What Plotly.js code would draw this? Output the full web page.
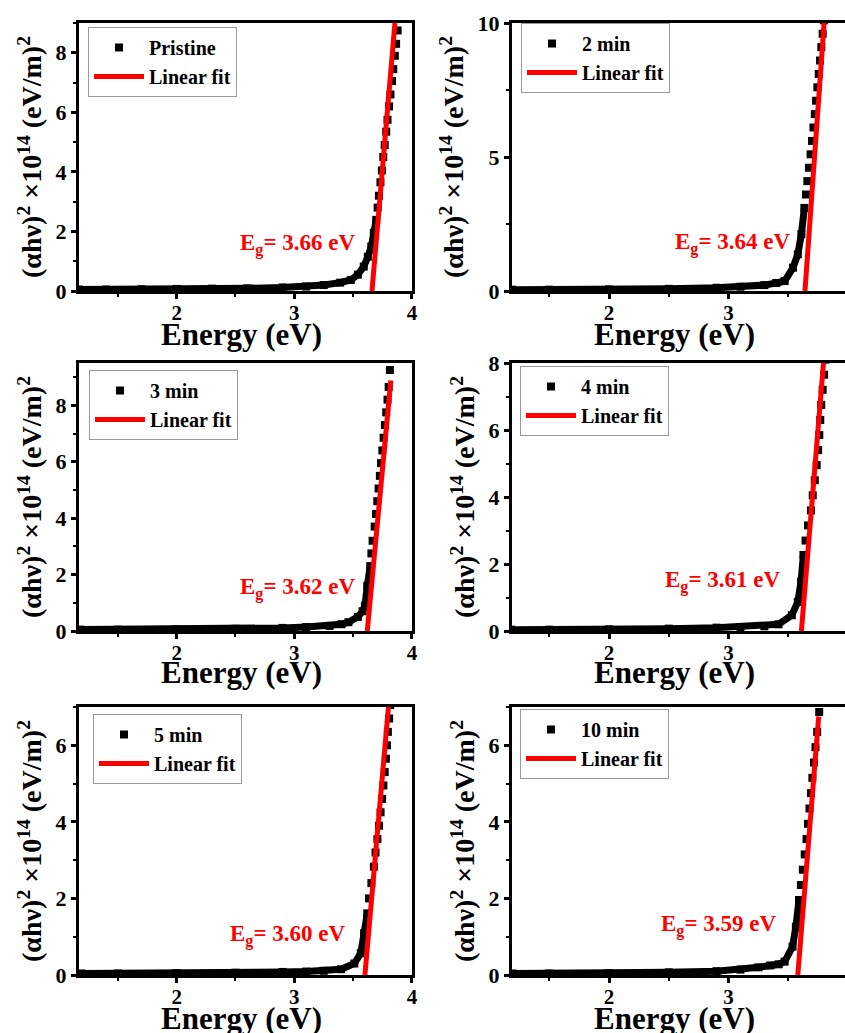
<!DOCTYPE html>
<html>
<head>
<meta charset="utf-8">
<script src="https://cdn.plot.ly/plotly-3.0.1.min.js"></script>
<style>
html,body{margin:0;padding:0;background:#fff;}
#chart{width:845px;height:1033px;}
</style>
</head>
<body>
<div id="chart"></div>
<script>
// ---------------- DATA ----------------
const sampleNames = ["Pristine", "2 min", "3 min", "4 min", "5 min", "10 min"];
const bandGaps = ["3.66", "3.64", "3.62", "3.61", "3.60", "3.59"];
const xTitle = "Energy (eV)";
const yTitle = "(αhν)<sup>2</sup> ×10<sup>14</sup> (eV/m)<sup>2</sup>";

const energy_pristine = [1.17,1.4,1.7,2.0,2.3,2.6,2.9,3.1,3.25,3.39,3.48,3.54,3.59,3.625,3.654,3.676,3.696,3.708,3.719,3.732,3.744,3.756,3.768,3.781,3.792,3.805,3.817,3.830,3.841,3.854,3.865,3.878,3.892];
const tauc_pristine   = [0.05,0.05,0.06,0.07,0.08,0.09,0.12,0.15,0.20,0.28,0.37,0.55,0.82,1.15,1.49,1.95,2.39,2.8,3.2,3.65,4.05,4.5,4.9,5.35,5.75,6.2,6.6,7.05,7.45,7.9,8.3,8.75,9.2];

const energy_2min = [1.19,1.5,2.0,2.5,2.9,3.1,3.3,3.4,3.47,3.54,3.58,3.61,3.635,3.648,3.660,3.673,3.687,3.699,3.711,3.722,3.733,3.744,3.755,3.766,3.777,3.788,3.798];
const tauc_2min   = [0.05,0.05,0.06,0.08,0.12,0.16,0.22,0.30,0.37,0.87,1.37,2.12,3.1,3.6,4.1,4.6,5.1,5.6,6.1,6.6,7.1,7.6,8.1,8.6,9.1,9.6,10.1];

const energy_3min = [1.18,1.5,2.0,2.5,2.9,3.1,3.3,3.4,3.46,3.54,3.58,3.60,3.62,3.645,3.655,3.665,3.683,3.694,3.705,3.716,3.727,3.737,3.748,3.759,3.770,3.781,3.792,3.802,3.812];
const tauc_3min   = [0.05,0.05,0.06,0.08,0.11,0.14,0.18,0.24,0.31,0.50,0.70,0.90,1.6,2.3,2.75,3.2,3.7,4.15,4.6,5.05,5.5,5.95,6.4,6.85,7.3,7.75,8.2,8.65,9.25];

const energy_4min = [1.18,1.5,2.0,2.5,2.9,3.1,3.3,3.418,3.53,3.58,3.607,3.627,3.645,3.665,3.69,3.705,3.722,3.738,3.75,3.76,3.768,3.776,3.788,3.80,3.81];
const tauc_4min   = [0.04,0.04,0.05,0.07,0.10,0.12,0.14,0.20,0.47,0.87,1.47,2.27,2.7,3.15,3.6,4.05,4.5,4.95,5.4,5.85,6.3,6.75,7.2,7.65,8.1];

const energy_5min = [1.19,1.5,2.0,2.5,2.9,3.1,3.25,3.397,3.51,3.565,3.593,3.62,3.635,3.655,3.676,3.69,3.706,3.72,3.733,3.746,3.757,3.768,3.778,3.787,3.795,3.806,3.815];
const tauc_5min   = [0.04,0.04,0.05,0.06,0.08,0.09,0.11,0.15,0.30,0.57,1.09,1.61,2.0,2.4,2.83,3.2,3.55,3.9,4.25,4.6,4.95,5.3,5.65,6.0,6.35,6.7,7.05];

const energy_10min = [1.19,1.5,2.0,2.5,2.9,3.1,3.25,3.35,3.42,3.47,3.536,3.564,3.59,3.606,3.622,3.638,3.653,3.665,3.678,3.69,3.702,3.715,3.728,3.742,3.759];
const tauc_10min   = [0.04,0.04,0.05,0.07,0.10,0.14,0.20,0.25,0.28,0.35,0.74,1.26,1.96,2.35,2.75,3.15,3.55,3.95,4.35,4.75,5.15,5.55,5.95,6.35,6.87];

// linear fit end points (energy, value)
const fitE_pristine = [3.66, 3.855]; const fitY_pristine = [0, 9.0];
const fitE_2min     = [3.64, 3.80];  const fitY_2min     = [0, 10.0];
const fitE_3min     = [3.62, 3.82];  const fitY_3min     = [0, 8.88];
const fitE_4min     = [3.61, 3.795]; const fitY_4min     = [0, 8.0];
const fitE_5min     = [3.60, 3.80];  const fitY_5min     = [0, 7.0];
const fitE_10min    = [3.58, 3.755]; const fitY_10min    = [0, 6.75];

const xTickVals = [2, 3, 4];
const yMaxes = [9, 10, 9.5, 8, 7, 7];
const yDticks = [2, 5, 2, 2, 2, 2];

// ---------------- STYLE / LAYOUT ----------------
const energies = [energy_pristine, energy_2min, energy_3min, energy_4min, energy_5min, energy_10min];
const taucs = [tauc_pristine, tauc_2min, tauc_3min, tauc_4min, tauc_5min, tauc_10min];
const fitEs = [fitE_pristine, fitE_2min, fitE_3min, fitE_4min, fitE_5min, fitE_10min];
const fitYs = [fitY_pristine, fitY_2min, fitY_3min, fitY_4min, fitY_5min, fitY_10min];
const bandTop = [2.4, 3.1, 2.3, 2.3, 1.62, 1.96];

const FONT = 'Liberation Serif';
const W = 845, H = 1033;
const colX = [[79, 412], [512, 845]];
const colRange = [[1.17, 4.0001], [1.188, 3.975]];
const rowY = [[23, 291], [363, 631], [707, 975]];
const legendPos = [[88, 27], [521, 23], [89, 370], [520, 366], [93, 714], [520, 709]];
const annPos = [[3.53, 1.55], [3.53, 1.76], [3.536, 1.49], [3.448, 1.49], [3.45, 1.04], [3.414, 1.3]];
const xTitleCenterY = [334, 672, 1018];

const traces = [];
const layout = {
  width: W, height: H,
  margin: {l: 0, r: 0, t: 0, b: 0},
  paper_bgcolor: '#fff', plot_bgcolor: '#fff',
  font: {family: FONT, color: '#000'},
  showlegend: true,
  annotations: []
};

for (let i = 0; i < 6; i++) {
  const n = i + 1;
  const col = i % 2, row = Math.floor(i / 2);
  const sfx = (n === 1 ? '' : String(n));
  const xa = 'x' + sfx, ya = 'y' + sfx;
  const lg = 'legend' + sfx;
  const E = energies[i], Y = taucs[i];
  const bx = [], by = [];
  for (let k = 0; k < E.length; k++) if (Y[k] <= bandTop[i]) { bx.push(E[k]); by.push(Y[k]); }

  traces.push({x: bx, y: by, xaxis: xa, yaxis: ya, mode: 'lines', showlegend: false, hoverinfo: 'skip',
    line: {color: '#000', width: 7}, legend: lg});
  traces.push({x: E, y: Y, xaxis: xa, yaxis: ya, mode: 'markers', name: sampleNames[i], legend: lg,
    marker: {symbol: 'square', size: 8, color: '#000'}});
  traces.push({x: fitEs[i], y: fitYs[i], xaxis: xa, yaxis: ya, mode: 'lines', name: 'Linear fit', legend: lg,
    line: {color: '#ff0000', width: 5}});

  layout['xaxis' + sfx] = {
    domain: [colX[col][0] / W, colX[col][1] / W], range: colRange[col], anchor: ya,
    showline: true, linewidth: 3, linecolor: '#000', mirror: true,
    ticks: 'outside', ticklen: 5, tickwidth: 2.5, tickcolor: '#000',
    tickmode: 'array', tickvals: xTickVals, ticklabelstandoff: -4,
    minor: {ticks: 'outside', ticklen: 3, tickwidth: 2, dtick: 0.5, tick0: 0, tickcolor: '#000', showgrid: false},
    showgrid: false, zeroline: false,
    tickfont: {family: FONT, size: 21, weight: 'bold', color: '#000'}
  };
  layout['yaxis' + sfx] = {
    domain: [1 - rowY[row][1] / H, 1 - rowY[row][0] / H], range: [0, yMaxes[i]], anchor: xa,
    showline: true, linewidth: 3, linecolor: '#000', mirror: col === 0,
    ticks: 'outside', ticklen: 5, tickwidth: 2.5, tickcolor: '#000',
    dtick: yDticks[i], tick0: 0,
    minor: {ticks: 'outside', ticklen: 3, tickwidth: 2, dtick: yDticks[i] / 2, tick0: 0, tickcolor: '#000', showgrid: false},
    showgrid: false, zeroline: false,
    tickfont: {family: FONT, size: 22, weight: 'bold', color: '#000'},
    title: {text: yTitle, font: {family: FONT, size: 28, weight: 'bold', color: '#000'}, standoff: 6}
  };
  layout[lg] = {
    x: legendPos[i][0] / W, y: 1 - legendPos[i][1] / H, xanchor: 'left', yanchor: 'top',
    bgcolor: '#fff', bordercolor: '#999', borderwidth: 1, tracegroupgap: 0, itemwidth: 50,
    font: {family: FONT, size: 20, weight: 'bold', color: '#000'}
  };
  layout.annotations.push({
    xref: xa, yref: ya, x: annPos[i][0], y: annPos[i][1], xanchor: 'right', yanchor: 'middle',
    text: 'E<sub>g</sub>= ' + bandGaps[i] + ' eV', showarrow: false,
    font: {family: FONT, size: 23, weight: 'bold', color: '#ff0000'}
  });
  layout.annotations.push({
    xref: 'paper', yref: 'paper', x: ((colX[col][0] + colX[col][1]) / 2 - 4) / W,
    y: 1 - xTitleCenterY[row] / H, xanchor: 'center', yanchor: 'middle',
    text: xTitle, showarrow: false,
    font: {family: FONT, size: 31, weight: 'bold', color: '#000'}
  });
}

Plotly.newPlot('chart', traces, layout, {displayModeBar: false});
</script>
</body>
</html>
